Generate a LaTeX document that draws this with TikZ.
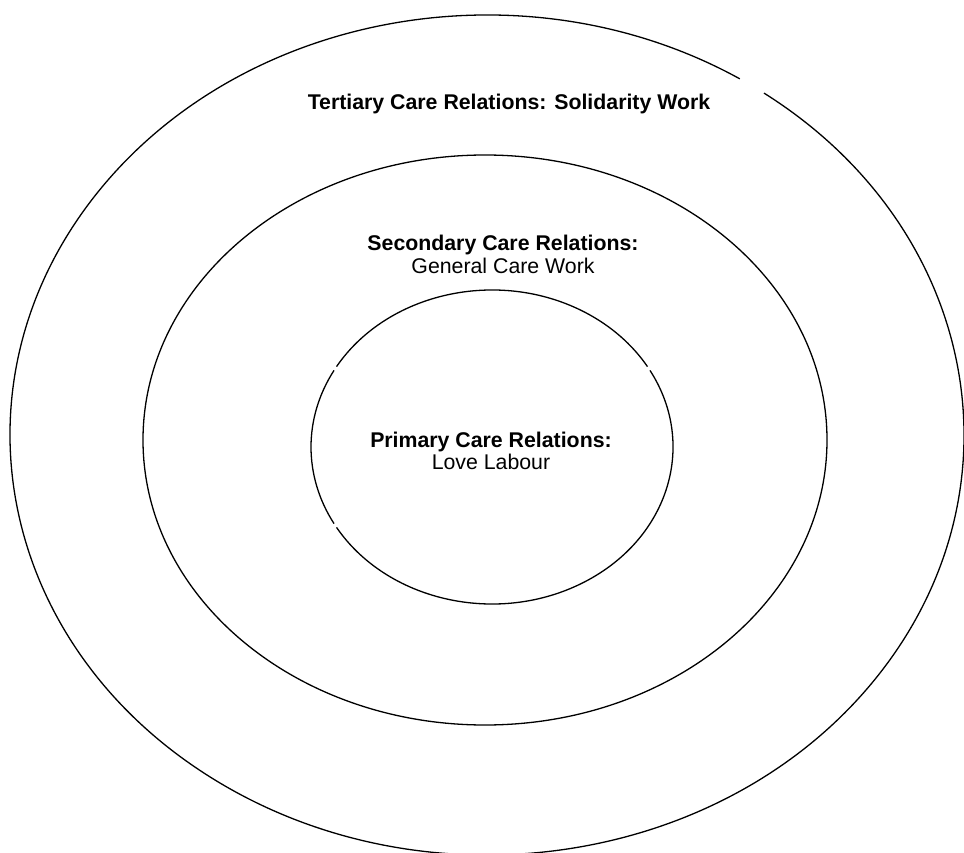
\documentclass[tikz,border=0pt]{standalone}
\usepackage{fontspec}
\setmainfont{Liberation Sans}
\begin{document}
\begin{tikzpicture}[x=1pt,y=-1pt,
  ring/.style={line width=1.3pt,black},
  lbl/.style={anchor=base,font=\fontsize{21.3}{24}\selectfont,inner sep=0pt},
  blbl/.style={lbl,font=\fontsize{21.3}{24}\selectfont\bfseries}]
\useasboundingbox (0,0) rectangle (964,853);
\begin{scope}
\clip (0,0) rectangle (964,853);
% outer ellipse with small gap at top right
\draw[ring] ([shift={(-54.5:477 and 420)}]487,435) arc[start angle=-54.5,end angle=302,x radius=477,y radius=420];
\end{scope}
% middle ellipse
\draw[ring] (485,440) ellipse[x radius=342,y radius=285];
% inner ellipse, drawn in three pieces with tiny gaps
\draw[ring] ([shift={(-149.2:181 and 157)}]492,447) arc[start angle=-149.2,end angle=-30.8,x radius=181,y radius=157];
\draw[ring] ([shift={(-29.2:181 and 157)}]492,447) arc[start angle=-29.2,end angle=149.2,x radius=181,y radius=157];
\draw[ring] ([shift={(150.8:181 and 157)}]492,447) arc[start angle=150.8,end angle=209.2,x radius=181,y radius=157];
\node[blbl] (tert) at (509,110) {Tertiary Care Relations: Solidarity Work};
\node[blbl] (sec1) at (503,251) {Secondary Care Relations:};
\node[lbl] (sec2) at (503,273) {General Care Work};
\node[blbl] (prim1) at (491,447) {Primary Care Relations:};
\node[lbl] (prim2) at (491,469) {Love Labour};
\end{tikzpicture}
\end{document}
